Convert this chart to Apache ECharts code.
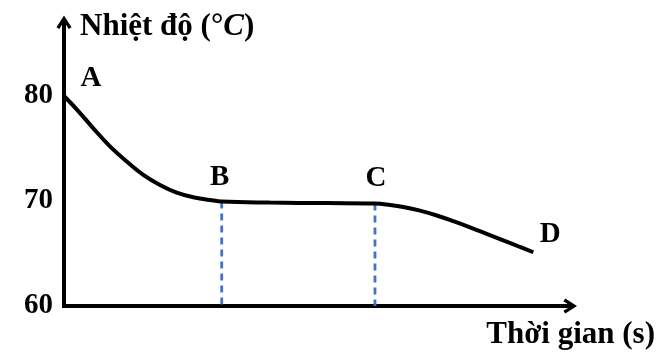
<!DOCTYPE html>
<html>
<head>
<meta charset="utf-8">
<script src="https://cdn.jsdelivr.net/npm/echarts@6/dist/echarts.min.js"></script>
<style>
html,body{margin:0;padding:0;background:#fff;}
#c{width:666px;height:359px;}
</style>
</head>
<body>
<div id="c"></div>
<script>
// ---- data ----
const timeVals = [0, 2.51, 5.80, 9.10, 12.40, 15.69, 18.99, 22.29, 25.58, 28.88, 31.20, 40.7, 52.0, 61.52, 64.49, 67.12, 70.43, 73.73, 77.01, 80.32, 83.62, 86.90, 90.21, 92.84];
const tempVals = [80, 78.73, 76.92, 75.20, 73.76, 72.48, 71.52, 70.79, 70.35, 70.10, 69.95, 69.85, 69.80, 69.76, 69.62, 69.43, 69.08, 68.62, 68.08, 67.49, 66.87, 66.25, 65.62, 65.12];
const pointNames = ['A', 'B', 'C', 'D'];
const pointIdx = [0, 10, 13, 23];
const dashedIdx = [10, 13];
const yTicks = [60, 70, 80];
const yTitle = 'Nhiệt độ (°{i|C})';
const xTitle = 'Thời gian (s)';

const FONT = "'Liberation Serif', 'DejaVu Serif', serif";
const chart = echarts.init(document.getElementById('c'), null, {renderer: 'canvas'});

const curve = timeVals.map((t, i) => [t, tempVals[i]]);
const yMin = yTicks[0];
const arrowPath = 'path://M8,0 L16,12.5 L13,14.5 L10,9.6 L10,16 L6,16 L6,9.6 L3,14.5 L0,12.5 Z';

const labelOffsets = [[27, -17], [-2, -24], [1, -25], [17, -18]];

const series = [{
  type: 'line',
  data: curve,
  smooth: 0.4,
  symbol: 'none',
  lineStyle: {color: '#000', width: 4},
  z: 5
}];
dashedIdx.forEach(i => {
  series.push({
    type: 'line',
    data: [[timeVals[i], tempVals[i]], [timeVals[i], yMin]],
    symbol: 'none',
    lineStyle: {color: '#4472C4', width: 2.8, type: [7, 5]},
    z: 3
  });
});
series.push({
  type: 'scatter',
  symbolSize: 0,
  itemStyle: {opacity: 1},
  data: pointIdx.map((idx, k) => ({
    value: [timeVals[idx], tempVals[idx]],
    name: pointNames[k],
    label: {offset: labelOffsets[k]}
  })),
  label: {
    show: true,
    position: 'inside',
    formatter: p => p.name,
    fontFamily: FONT,
    fontWeight: 'bold',
    fontSize: 29,
    color: '#000',
    opacity: 1,
    textBorderWidth: 0
  },
  z: 6
});

chart.setOption({
  animation: false,
  grid: {left: 64, right: 96.5, top: 23, bottom: 53, containLabel: false},
  xAxis: {
    type: 'value',
    min: 0, max: 100,
    axisLine: {show: true, symbol: ['none', arrowPath], symbolSize: [16, 15], lineStyle: {color: '#000', width: 4, cap: 'square'}},
    axisTick: {show: false},
    axisLabel: {show: false},
    splitLine: {show: false},
    name: xTitle,
    nameLocation: 'end',
    nameGap: 85.5,
    nameTextStyle: {fontFamily: FONT, fontWeight: 'bold', fontSize: 31, color: '#000', align: 'right', verticalAlign: 'top', lineHeight: 30, padding: [14, 0, 0, 0]}
  },
  yAxis: {
    type: 'value',
    min: yMin, max: 86.95, interval: 10,
    axisLine: {show: true, symbol: ['none', arrowPath], symbolSize: [15, 15], lineStyle: {color: '#000', width: 4, cap: 'square'}},
    axisTick: {show: false},
    splitLine: {show: false},
    axisLabel: {
      margin: 11,
      padding: [6, 0, 0, 0],
      fontFamily: FONT, fontWeight: 'bold', fontSize: 29, color: '#000',
      showMaxLabel: false,
      formatter: v => (yTicks.indexOf(v) >= 0 ? String(v) : '')
    },
    name: yTitle,
    nameLocation: 'end',
    nameGap: -4,
    nameTextStyle: {
      fontFamily: FONT, fontWeight: 'bold', fontSize: 31, color: '#000',
      align: 'left', verticalAlign: 'middle', padding: [0, 0, 0, 16],
      rich: {i: {fontFamily: FONT, fontWeight: 'bold', fontStyle: 'italic', fontSize: 31, color: '#000'}}
    }
  },
  series: series
});
</script>
</body>
</html>
